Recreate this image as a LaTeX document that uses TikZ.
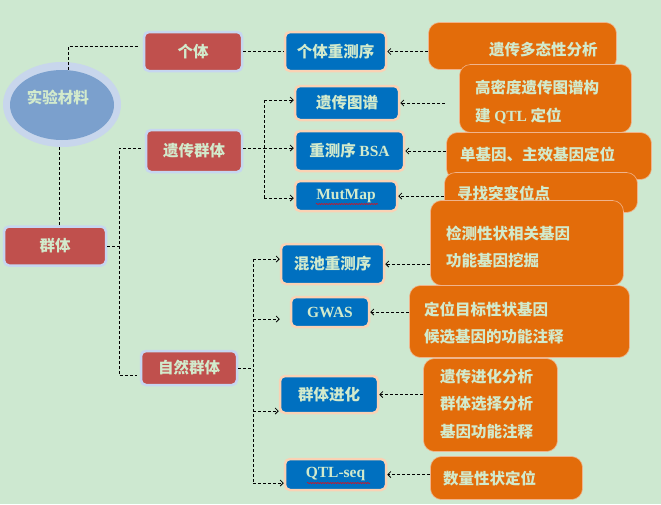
\documentclass[tikz,border=0pt]{standalone}
\usepackage{fontspec}
\setmainfont{Liberation Serif}
\newfontfamily\cjk{Noto Sans CJK SC}
\usetikzlibrary{arrows.meta,shapes.geometric,decorations.pathmorphing}
\definecolor{bgcol}{RGB}{205,232,208}
\definecolor{txtcol}{RGB}{210,234,204}
\definecolor{redfill}{RGB}{192,80,77}
\definecolor{redrim}{RGB}{198,214,240}
\definecolor{bluefill}{RGB}{0,112,192}
\definecolor{bluerim}{RGB}{250,210,180}
\definecolor{orangefill}{RGB}{227,108,10}
\definecolor{orangerim}{RGB}{240,180,140}
\definecolor{ellout}{RGB}{200,214,236}
\definecolor{ellin}{RGB}{123,160,205}
\newcommand{\eng}[1]{{\rmfamily\bfseries #1}}
\begin{document}
\begin{tikzpicture}[x=1pt,y=-1pt,
	box/.style={rectangle,rounded corners=5pt,line width=2.5pt,inner sep=0pt,text=txtcol,
		font={\cjk\bfseries\fontsize{15.5}{27}\selectfont}},
	gbox/.style={box,fill=redfill,draw=redrim},
	mbox/.style={box,fill=bluefill,draw=bluerim},
	obox/.style={rectangle,rounded corners=11pt,fill=orangefill,draw=orangerim,line width=0.6pt},
	otext/.style={anchor=west,align=left,inner sep=0pt,text=txtcol,
		font={\cjk\bfseries\fontsize{15.5}{27.5}\selectfont}},
	link/.style={black,line width=0.8pt,dash pattern=on 3pt off 2pt},
	arr/.style={link,-{Straight Barb[length=3pt,width=6pt]}},
	squig/.style={red,line width=0.5pt,decorate,decoration={snake,amplitude=0.6pt,segment length=2.5pt}}]
	\useasboundingbox[fill=bgcol] (0,0) rectangle (661,504);
	
	% material
	\node[ellipse,fill=ellout,minimum width=118pt,minimum height=85pt] (elo) at (62,104.5) {};
	\node[ellipse,fill=ellin,minimum width=104pt,minimum height=70pt] (sycl) at (62,105) {};
	\node[inner sep=0pt,text=txtcol,font={\cjk\bfseries\fontsize{15.5}{18}\selectfont}] (syclt) at (58,97) {实验材料};
	
	% groups
	\node[gbox,minimum width=98pt,minimum height=39pt] (gt) at (193,51.5) {个体};
	\node[gbox,minimum width=96pt,minimum height=42pt] (ycqt) at (194,151) {遗传群体};
	\node[gbox,minimum width=102pt,minimum height=39pt] (qt) at (55,246) {群体};
	\node[gbox,minimum width=96pt,minimum height=34pt] (zrqt) at (189,368) {自然群体};
	
	% methods
	\node[mbox,minimum width=101pt,minimum height=39pt] (grcxs) at (335.5,51.5) {个体重测序};
	\node[mbox,minimum width=104pt,minimum height=34pt] (yctp) at (347,103) {遗传图谱};
	\node[mbox,minimum width=109pt,minimum height=40pt] (bsa) at (349.5,151) {重测序 \eng{BSA}};
	\node[mbox,minimum width=102pt,minimum height=30pt] (mutmap) at (346,196) {\eng{MutMap}};
	\node[mbox,minimum width=103pt,minimum height=40pt] (hccx) at (332.5,264) {混池重测序};
	\node[mbox,minimum width=78pt,minimum height=30pt] (gwas) at (330,312) {\eng{GWAS}};
	\node[mbox,minimum width=98pt,minimum height=37pt] (qtjh) at (329,394.5) {群体进化};
	\node[mbox,minimum width=101pt,minimum height=31pt] (qtlseq) at (335.5,474.5) {\eng{QTL-seq}};
	\draw[squig] ([xshift=-30pt,yshift=-8pt]mutmap.center) -- ++(62,0);
	\draw[squig] ([xshift=-28.5pt,yshift=-8.5pt]qtlseq.center) -- ++(63,0);
	
	% uses
	\node[obox,minimum width=188pt,minimum height=47pt] (dtx) at (522.5,46) {};
	\node[obox,minimum width=172pt,minimum height=68pt] (ytt) at (545.5,98.5) {};
	\node[obox,minimum width=205pt,minimum height=47pt] (djy) at (549,156) {};
	\node[obox,minimum width=193pt,minimum height=40pt] (tbd) at (541,192.5) {};
	\node[obox,minimum width=193pt,minimum height=85pt] (jcx) at (527,243) {};
	\node[obox,minimum width=220pt,minimum height=72pt] (dwm) at (519.5,321.5) {};
	\node[obox,minimum width=134pt,minimum height=93pt] (jhf) at (490.5,405) {};
	\node[obox,minimum width=152pt,minimum height=43pt] (slx) at (506.5,478) {};
	\node[otext] (dtxt) at (489,50) {遗传多态性分析};
	\node[otext] (yttt) at (475,102) {高密度遗传图谱构\\建 \eng{QTL} 定位};
	\node[otext] (djyt) at (460,155) {单基因、主效基因定位};
	\node[otext] (tbdt) at (457,193) {寻找突变位点};
	\node[otext] (jcxt) at (446,247) {检测性状相关基因\\功能基因挖掘};
	\node[otext] (dwmt) at (424,323) {定位目标性状基因\\候选基因的功能注释};
	\node[otext] (jhft) at (440,404) {遗传进化分析\\群体选择分析\\基因功能注释};
	\node[otext] (slxt) at (443,478) {数量性状定位};
	
	% links
	\draw[link,shorten >=5pt] ([xshift=6pt]sycl.north) |- ([yshift=5pt]gt.west);
	\draw[link] ([xshift=-3pt]elo.south) -- ([xshift=-3pt]elo.south |- qt.north);
	\draw[link] (gt.east) -- (grcxs.west);
	
	\coordinate (qbus) at (119,246);
	\draw[link] (qt.east) -- (qbus);
	\draw[link,shorten <=4pt,shorten >=3pt] ([yshift=3pt]ycqt.west) -| (qbus) |- ([yshift=-7pt]zrqt.west);
	
	\coordinate (ybus) at (264,148);
	\draw[link] ([yshift=3pt]ycqt.east) -- (ybus);
	\draw[link] ([yshift=3pt]yctp.west -| ybus) -- ([yshift=-2pt]mutmap.west -| ybus);
	\foreach \n/\s in {yctp/3,bsa/3,mutmap/-2}
		\draw[arr] ([yshift=\s pt]\n.west -| ybus) -- ([yshift=\s pt]\n.west);
	
	\coordinate (zbus) at (253,368);
	\draw[link] (zrqt.east) -- (zbus);
	\draw[link] ([yshift=5pt]hccx.west -| zbus) -- ([yshift=-8.5pt]qtlseq.west -| zbus);
	\foreach \n/\s/\g in {hccx/5/0,gwas/-7/10,qtjh/-16.5/0,qtlseq/-8.5/0}
		\draw[arr,shorten >=\g pt] ([yshift=\s pt]\n.west -| zbus) -- ([yshift=\s pt]\n.west);
	
	\foreach \o/\m/\g in {dtx/grcxs/0,ytt/yctp/14,djy/bsa/0,tbd/mutmap/0,jcx/hccx/0,dwm/gwas/0,jhf/qtjh/0,slx/qtlseq/0}
		\draw[arr,shorten <=\g pt] (\o.west |- \m.east) -- (\m.east);
\end{tikzpicture}
\end{document}
